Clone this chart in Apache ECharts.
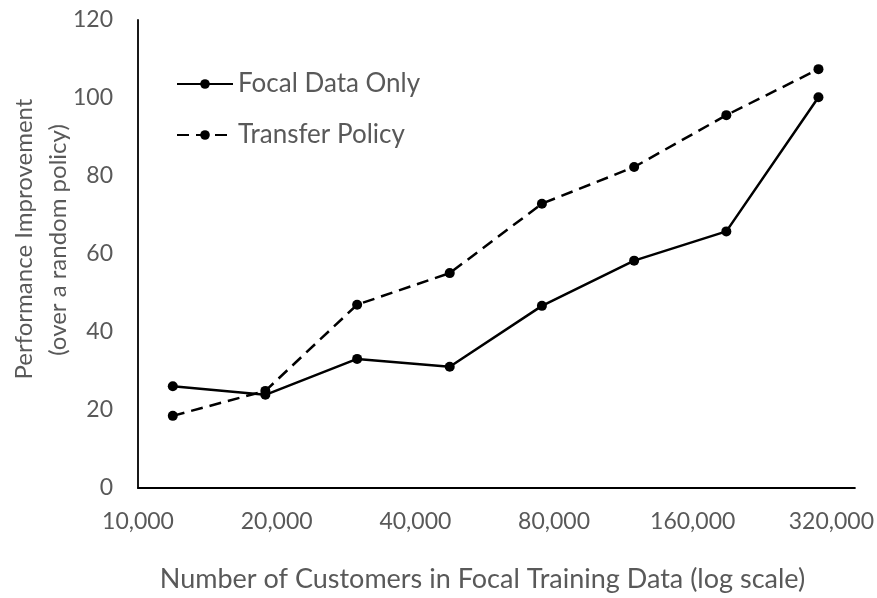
<!DOCTYPE html>
<html>
<head>
<meta charset="utf-8">
<script src="https://cdn.jsdelivr.net/npm/echarts@6/dist/echarts.min.js"></script>
<style>
  html, body { margin: 0; padding: 0; background: #fff; }
  #chart { width: 877px; height: 598px; }
</style>
</head>
<body>
<div id="chart"></div>
<script>
// customers in the focal training data (x, log scale)
const customers = [11900, 18900, 29900, 47500, 75300, 119400, 189300, 300000];
const focalOnly = [26.1, 23.9, 33.1, 31.1, 46.7, 58.3, 65.8, 100.2];
const transferPolicy = [18.5, 24.9, 47.0, 55.1, 72.9, 82.3, 95.6, 107.4];
const xTickLabels = ['10,000', '20,000', '40,000', '80,000', '160,000', '320,000'];
const yTicks = [0, 20, 40, 60, 80, 100, 120];

const xBase = 10000; // axis runs in doublings above 10,000
const font = 'Lato, "Open Sans", sans-serif';
const gray = '#595959';

function toPoints(vals) {
    return customers.map(function (c, i) {
        return [Math.log2(c / xBase), vals[i]];
    });
}

const chart = echarts.init(document.getElementById('chart'));
chart.setOption({
    animation: false,
    textStyle: { fontFamily: font },
    grid: { left: 138, right: 22, top: 20, bottom: 110 },
    legend: {
        orient: 'vertical',
        left: 171,
        top: 66,
        itemWidth: 56,
        itemHeight: 12,
        itemGap: 25,
        textStyle: { fontSize: 26, color: gray, fontFamily: font },
        data: ['Focal Data Only', 'Transfer Policy']
    },
    xAxis: {
        type: 'value',
        min: 0,
        max: 5.17,
        interval: 1,
        splitLine: { show: false },
        axisTick: { show: false },
        axisLine: { lineStyle: { color: '#000', width: 1.8 } },
        axisLabel: {
            fontSize: 23,
            color: gray,
            margin: 22,
            showMaxLabel: false,
            formatter: function (v) {
                return Number.isInteger(v) ? xTickLabels[v] : '';
            }
        },
        name: 'Number of Customers in Focal Training Data (log scale)',
        nameLocation: 'middle',
        nameGap: 78,
        nameTextStyle: { fontSize: 27, color: gray, padding: [0, 28, 0, 0] }
    },
    yAxis: {
        type: 'value',
        min: yTicks[0],
        max: yTicks[yTicks.length - 1],
        interval: 20,
        splitLine: { show: false },
        axisTick: { show: false },
        axisLine: { show: true, lineStyle: { color: '#000', width: 1.8 } },
        axisLabel: { fontSize: 23, color: gray, margin: 25 }
    },
    graphic: [{
        type: 'text',
        x: 24,
        y: 239,
        rotation: Math.PI / 2,
        style: {
            text: 'Performance Improvement',
            fontSize: 24,
            fontFamily: font,
            fill: gray,
            align: 'center',
            verticalAlign: 'middle'
        }
    }, {
        type: 'text',
        x: 58,
        y: 240,
        rotation: Math.PI / 2,
        style: {
            text: '(over a random policy)',
            fontSize: 24,
            fontFamily: font,
            fill: gray,
            align: 'center',
            verticalAlign: 'middle'
        }
    }],
    series: [{
        name: 'Focal Data Only',
        type: 'line',
        data: toPoints(focalOnly),
        symbol: 'circle',
        symbolSize: 10,
        itemStyle: { color: '#000' },
        lineStyle: { color: '#000', width: 2.5 }
    }, {
        name: 'Transfer Policy',
        type: 'line',
        data: toPoints(transferPolicy),
        symbol: 'circle',
        symbolSize: 10,
        itemStyle: { color: '#000' },
        lineStyle: { color: '#000', width: 2.5, type: [12, 7] }
    }]
});
</script>
</body>
</html>
